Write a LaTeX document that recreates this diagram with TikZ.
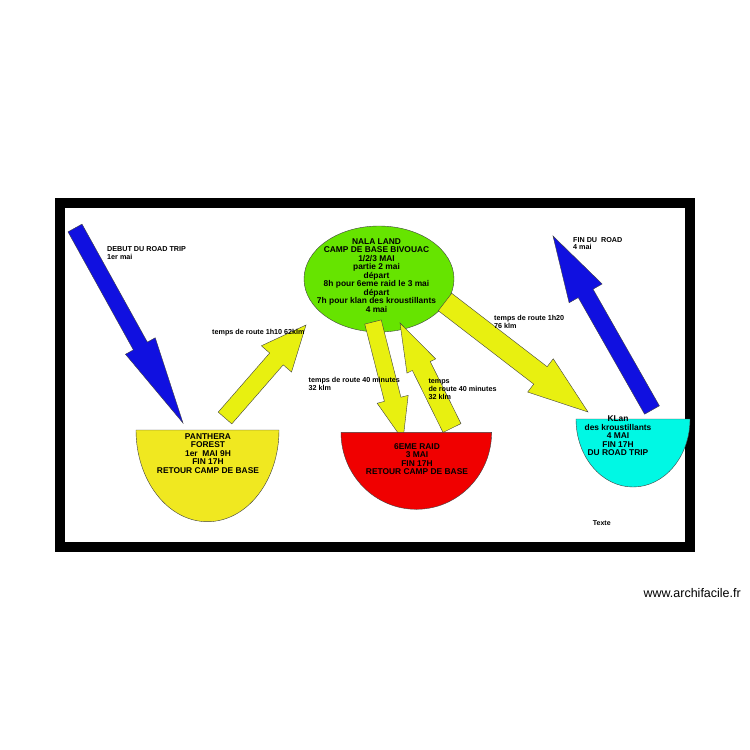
\documentclass[tikz,border=0pt]{standalone}
\usepackage{fontspec}
\setmainfont{Liberation Sans}
\usetikzlibrary{calc,shapes.geometric}
\definecolor{nalagreen}{RGB}{102,228,0}
\definecolor{arrowblue}{RGB}{16,16,224}
\definecolor{arrowyellow}{RGB}{232,240,16}
\definecolor{pantheryellow}{RGB}{240,232,32}
\definecolor{raidred}{RGB}{240,0,0}
\definecolor{klancyan}{RGB}{0,248,228}
\tikzset{
  mainlabel/.style={font=\fontsize{8.4}{8.5}\selectfont\bfseries, align=center, inner sep=0pt},
  note/.style={font=\fontsize{7.2}{7.8}\selectfont\bfseries, align=left, inner sep=0pt, anchor=west},
  shapeline/.style={draw=black!75, line width=0.4pt},
  arrowline/.style={draw=black!75, line width=0.4pt, line join=miter},
}
% tail, tip, half shaft width, half head width, head length, colour
\newcommand\blockarrow[6]{%
  \coordinate (bah) at ($(#2)!#5!(#1)$);
  \filldraw[arrowline, fill=#6] ($(#1)!#3!90:(#2)$) -- ($(bah)!#3!-90:(#1)$) -- ($(bah)!#4!-90:(#1)$) -- (#2) -- ($(bah)!#4!90:(#1)$) -- ($(bah)!#3!90:(#1)$) -- ($(#1)!#3!-90:(#2)$) -- cycle;}
\begin{document}
\begin{tikzpicture}[x=1pt,y=-1pt]
\fill[white] (0,0) rectangle (750,750);
\useasboundingbox (0,0) rectangle (750,750);
% frame
\draw[line width=10pt] (60,203) rectangle (689.5,546.5);
% central ellipse
\node[ellipse, shapeline, fill=nalagreen, minimum width=150pt, minimum height=106pt, inner sep=0pt] (nala) at (379,279) {};
% arrow end points
\coordinate (debutT) at (75,228);   \coordinate (debutH) at (183,423);
\coordinate (finT) at (652,410);    \coordinate (finH) at (553,236);
\coordinate (yaT) at (225,418);     \coordinate (yaH) at (306,325);
\coordinate (ybT) at (373,322);     \coordinate (ybH) at (403,440);
\coordinate (ycT) at (452,428);     \coordinate (ycH) at (400,323);
\coordinate (ydT) at (445,302);     \coordinate (ydH) at (588,412);
\blockarrow{debutT}{debutH}{8pt}{17pt}{88pt}{arrowblue}
\blockarrow{finT}{finH}{8.5pt}{19pt}{66pt}{arrowblue}
\blockarrow{yaT}{yaH}{9pt}{20pt}{45pt}{arrowyellow}
\blockarrow{ybT}{ybH}{8.5pt}{16pt}{42pt}{arrowyellow}
\blockarrow{ycT}{ycH}{10pt}{16pt}{48pt}{arrowyellow}
\blockarrow{ydT}{ydH}{11pt}{21pt}{60pt}{arrowyellow}
% half discs
\coordinate (panthera) at (207.5,430);
\filldraw[shapeline, fill=pantheryellow] (136,430) -- (279,430) arc[start angle=0, end angle=-180, x radius=71.5pt, y radius=91.7pt] -- cycle;
\coordinate (raid) at (416.3,432.3);
\filldraw[shapeline, fill=raidred] (341,432.3) -- (491.6,432.3) arc[start angle=0, end angle=-180, x radius=75.3pt, y radius=77pt] -- cycle;
\coordinate (klan) at (633,419);
\filldraw[shapeline, fill=klancyan] (576,419) -- (690,419) arc[start angle=0, end angle=-180, x radius=57pt, y radius=68pt] -- cycle;
% main labels
\node[mainlabel] (nalatext) at (376.5,275.3) {NALA LAND\\CAMP DE BASE BIVOUAC\\1/2/3 MAI\\partie 2 mai\\départ\\8h pour 6eme raid le 3 mai\\départ\\7h pour klan des kroustillants\\4 mai};
\node[mainlabel] (panthertext) at (208,453.3) {PANTHERA\\FOREST\\1er\ \ MAI 9H\\FIN 17H\\RETOUR CAMP DE BASE};
\node[mainlabel] (raidtext) at (417,459.2) {6EME RAID\\3 MAI\\FIN 17H\\RETOUR CAMP DE BASE};
\node[mainlabel] (klantext) at (618,435.9) {KLan\\des kroustillants\\4 MAI\\FIN 17H\\DU ROAD TRIP};
% notes
\node[note] (debutnote) at (107,253) {DEBUT DU ROAD TRIP\\1er mai};
\node[note] (finnote) at (573,243.6) {FIN DU\ \ ROAD\\4 mai};
\node[note, anchor=base west] (yanote) at (212,334.5) {temps de route 1h10 62klm};
\node[note] (ybnote) at (308.5,383.6) {temps de route 40 minutes\\32 klm};
\node[note] (ycnote) at (428.3,389.4) {temps\\de route 40 minutes\\32 klm};
\node[note] (ydnote) at (494,321.8) {temps de route 1h20\\76 klm};
\node[note, font=\fontsize{7}{7}\selectfont\bfseries, anchor=base west] (texte) at (592.7,525.7) {Texte};
\node[inner sep=0pt, anchor=base east, font=\fontsize{12.5}{13}\selectfont] (site) at (741,597) {www.archifacile.fr};
\end{tikzpicture}
\end{document}
